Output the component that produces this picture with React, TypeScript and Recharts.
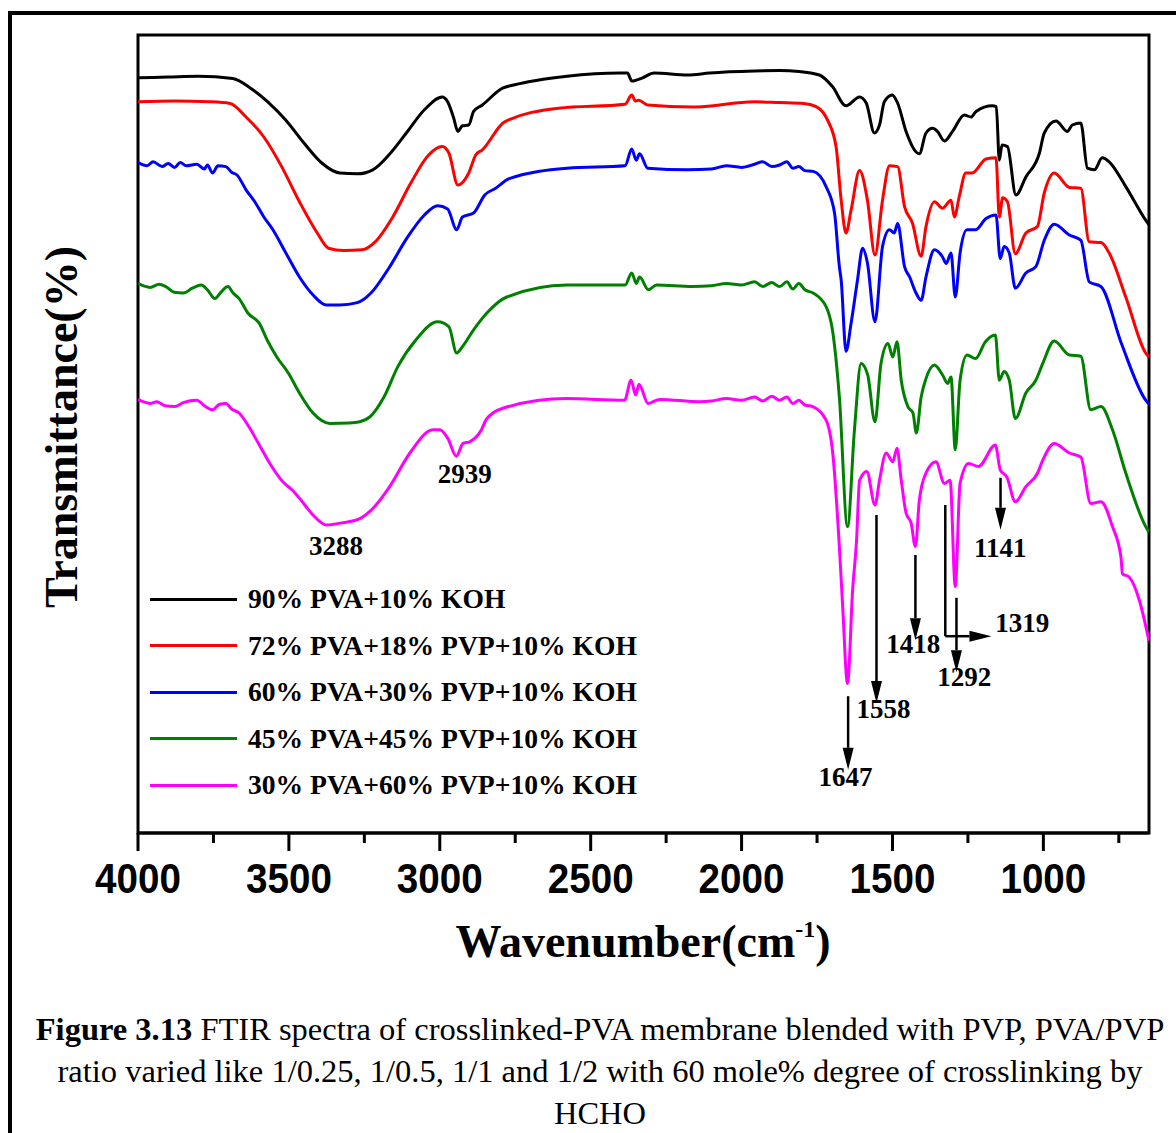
import React from 'react';
import { LineChart, Line, XAxis, YAxis, ReferenceLine, ReferenceDot, ReferenceArea } from 'recharts';

// FTIR traces, [wavenumber cm-1, transmittance a.u.]
const pva90: [number, number][] = [
  [4000, 94.4], [3900, 94.5], [3800, 94.6], [3686, 94.3], [3627, 93.1], [3570, 91.4], [3510, 89.1], [3450, 86.25],
  [3391, 83.75], [3331, 82.5], [3273, 82.4], [3222, 82.9], [3169, 84.75], [3109, 87.6], [3051, 90.4], [2992, 92],
  [2974, 91.4], [2955, 89.5], [2940, 87.7], [2925, 88.4], [2904, 88.5], [2888, 90.2], [2859, 91], [2792, 93.1],
  [2755, 93.5], [2578, 94.6], [2401, 95], [2378, 95], [2364, 94], [2328, 94.4], [2290, 95], [2179, 94.75],
  [2106, 95], [1957, 95.25], [1874, 95.3], [1810, 95.2], [1742, 94.75], [1699, 93.3], [1654, 90.9], [1609, 92],
  [1587, 91.25], [1560, 87.5], [1543, 88.5], [1527, 91.4], [1501, 92.25], [1483, 91.25], [1455, 87.7], [1411, 84.9],
  [1389, 87.5], [1367, 88.1], [1351, 87.7], [1328, 86.5], [1301, 87.7], [1262, 89.75], [1240, 89.5], [1223, 90.2],
  [1169, 90.9], [1156, 90.8], [1146, 84.1], [1137, 86], [1119, 85.8], [1091, 79.75], [1058, 82], [1013, 85],
  [997, 87.5], [958, 89], [921, 87.7], [904, 88.5], [876, 88.75], [854, 83.1], [831, 82.9], [805, 84.4],
  [782, 83.9], [727, 80.8], [661, 76.6], [650, 76],
];

const pvp18: [number, number][] = [
  [4000, 91.4], [3880, 91.5], [3762, 91.4], [3695, 91.2], [3642, 89.5], [3583, 87], [3524, 83.3], [3465, 78.9],
  [3406, 75], [3369, 73.1], [3318, 72.8], [3258, 72.9], [3214, 73.9], [3156, 77], [3096, 81.25], [3037, 84.75],
  [2992, 85.8], [2970, 85], [2940, 81], [2904, 82.5], [2881, 84.75], [2859, 85.4], [2785, 88.9], [2607, 90.6],
  [2386, 91.1], [2364, 92.25], [2352, 91.5], [2341, 91.6], [2311, 91], [2164, 90.75], [1957, 91.4], [1874, 91.3],
  [1795, 91.2], [1753, 90.8], [1715, 89.1], [1687, 85.8], [1670, 79.1], [1654, 75], [1637, 77.9], [1609, 82.8],
  [1583, 79.1], [1558, 72.25], [1533, 79.1], [1510, 83.4], [1483, 83.3], [1460, 78.3], [1434, 76.25], [1405, 72.1],
  [1389, 75.8], [1361, 78.9], [1334, 78.1], [1306, 79.1], [1295, 77], [1279, 79.5], [1257, 82.5], [1236, 82.5],
  [1190, 84.25], [1157, 84.4], [1146, 77], [1135, 79.4], [1119, 78.9], [1093, 72.4], [1058, 75], [1020, 75.8],
  [997, 80], [964, 82.5], [914, 80.7], [876, 80.6], [848, 73.9], [809, 73.8], [782, 72.5], [727, 67],
  [661, 60], [650, 59.5],
];

const pvp30: [number, number][] = [
  [4000, 83.8], [3970, 83.4], [3950, 83.9], [3920, 83.3], [3900, 83.7], [3879, 83.2], [3860, 83.8], [3840, 83.4],
  [3805, 83.6], [3780, 83.0], [3770, 83.5], [3753, 82.5], [3735, 83.4], [3709, 83.3], [3690, 82.6], [3672, 82.25],
  [3642, 80.4], [3613, 78.9], [3583, 77], [3553, 75.4], [3510, 72.5], [3465, 69.5], [3420, 67.25], [3376, 66],
  [3332, 66], [3273, 66.3], [3228, 67.5], [3169, 70.6], [3110, 74.3], [3051, 77.25], [3007, 78.4], [2974, 78],
  [2944, 75.4], [2925, 77], [2888, 77.5], [2851, 79.75], [2815, 80.6], [2770, 81.8], [2578, 83.1], [2386, 83.4],
  [2364, 85.5], [2349, 84.1], [2338, 84.9], [2311, 83.1], [2179, 82.9], [2100, 83.0], [2050, 83.4], [2000, 83.2],
  [1957, 83.6], [1930, 83.9], [1900, 83.3], [1874, 83.5], [1850, 83.9], [1830, 83.1], [1810, 83.3], [1790, 82.8],
  [1763, 82.7], [1720, 80.8], [1692, 77.5], [1676, 70.8], [1670, 69.1], [1654, 60.2], [1637, 63.75], [1616, 69.1],
  [1599, 73.1], [1583, 71.25], [1558, 63.9], [1533, 73.3], [1510, 75.4], [1494, 75], [1483, 76.2], [1460, 70.8],
  [1443, 69.5], [1422, 67.5], [1405, 66.6], [1389, 69.5], [1361, 72.9], [1334, 72], [1322, 71.2], [1306, 72.5],
  [1292, 67], [1276, 72.5], [1253, 75.4], [1225, 75.4], [1190, 76.8], [1157, 77.25], [1143, 71.8], [1130, 73.3],
  [1113, 72.5], [1093, 68.1], [1058, 70], [1025, 70.8], [997, 74.1], [964, 76.1], [914, 74.75], [876, 74.1],
  [848, 68.9], [809, 68.3], [742, 61.25], [661, 54.1], [650, 53.6],
];

const pvp45: [number, number][] = [
  [4000, 68.7], [3960, 68.2], [3930, 68.6], [3908, 68.3], [3880, 67.6], [3849, 67.5], [3820, 68.1], [3790, 68.5],
  [3770, 67.9], [3745, 66.8], [3725, 67.6], [3702, 68.3], [3685, 67.5], [3665, 66.8], [3636, 65], [3598, 63.7],
  [3569, 61.4], [3540, 59.5], [3502, 57.5], [3465, 55], [3420, 52.5], [3364, 51.2], [3300, 51.25], [3265, 51.4],
  [3232, 52], [3185, 54.5], [3139, 58.3], [3080, 61.6], [3007, 63.9], [2970, 63.3], [2944, 60], [2925, 60.8],
  [2888, 62.9], [2844, 65], [2778, 67], [2578, 68.5], [2386, 68.5], [2364, 70], [2349, 68.7], [2338, 69.5],
  [2309, 67.9], [2282, 68.5], [2164, 68.3], [2100, 68.4], [2050, 68.7], [2000, 68.5], [1957, 68.9], [1930, 68.3],
  [1900, 68.8], [1874, 68.3], [1850, 68.9], [1830, 68.0], [1810, 68.7], [1790, 67.9], [1763, 67.5], [1720, 65.8],
  [1699, 62.9], [1676, 54.5], [1649, 38.3], [1626, 50.4], [1604, 58.7], [1582, 57.25], [1558, 51.4], [1538, 58.7],
  [1515, 61.2], [1499, 59.5], [1485, 61.4], [1471, 56.6], [1449, 53.3], [1432, 52.5], [1421, 50], [1405, 54.5],
  [1389, 56.8], [1361, 58.5], [1334, 57.25], [1317, 56.2], [1306, 57], [1292, 47.9], [1276, 56.6], [1253, 59.75],
  [1225, 59.3], [1192, 61.4], [1159, 62.25], [1146, 56.6], [1130, 57.7], [1113, 56.6], [1093, 51.8], [1058, 55],
  [1025, 56.6], [1002, 58.7], [964, 61.5], [914, 59.75], [876, 59.6], [843, 52.9], [809, 53.3], [771, 50.4],
  [727, 45], [661, 38.3], [650, 37.6],
];

const pvp60: [number, number][] = [
  [4000, 54.2], [3960, 53.7], [3938, 53.9], [3910, 53.4], [3879, 53.3], [3850, 53.8], [3805, 54.1], [3780, 53.4],
  [3753, 52.9], [3730, 53.6], [3709, 53.7], [3690, 53.0], [3665, 52.5], [3636, 51], [3598, 48.5], [3560, 46],
  [3520, 43.9], [3490, 42.9], [3464, 41.8], [3420, 39.75], [3375, 38.5], [3320, 38.8], [3265, 39.3], [3221, 40.6],
  [3166, 43.3], [3099, 47.5], [3022, 50.4], [3000, 50.4], [2973, 49.3], [2945, 47.1], [2923, 48.7], [2901, 48.9],
  [2862, 50.4], [2846, 51.7], [2791, 53.1], [2581, 54.3], [2388, 54.1], [2366, 56.6], [2351, 54.75], [2340, 56.1],
  [2310, 53.7], [2271, 54.2], [2139, 53.9], [2100, 54.0], [2050, 54.3], [2000, 54.1], [1957, 54.5], [1930, 54.0],
  [1900, 54.6], [1874, 54.1], [1850, 54.5], [1830, 53.7], [1810, 54.1], [1790, 53.5], [1764, 53.3], [1720, 51.6],
  [1698, 47.5], [1676, 35.8], [1665, 28.3], [1649, 18.7], [1632, 30.4], [1619, 36.6], [1609, 44.1], [1585, 45.2],
  [1558, 41], [1543, 44.1], [1521, 47.5], [1499, 46.4], [1485, 48.1], [1471, 44.1], [1455, 40], [1438, 38.7],
  [1424, 35.8], [1411, 41.6], [1389, 45], [1356, 46.4], [1328, 43.7], [1309, 44.1], [1292, 30.8], [1276, 43.7],
  [1248, 46.2], [1215, 45.8], [1159, 48.5], [1143, 45.4], [1121, 44.5], [1093, 41.4], [1058, 43.3], [1019, 45],
  [1002, 46.6], [964, 48.7], [914, 47.5], [876, 47], [843, 41.2], [809, 41.4], [771, 38.3], [743, 34.5],
  [738, 32.4], [716, 32], [682, 29.1], [650, 24],
];

const series = [
  { name: '90% PVA+10% KOH', color: '#000000', points: pva90 },
  { name: '72% PVA+18% PVP+10% KOH', color: '#ff0000', points: pvp18 },
  { name: '60% PVA+30% PVP+10% KOH', color: '#0000ff', points: pvp30 },
  { name: '45% PVA+45% PVP+10% KOH', color: '#008000', points: pvp45 },
  { name: '30% PVA+60% PVP+10% KOH', color: '#ff00ff', points: pvp60 },
];

const xTicks = [4000, 3750, 3500, 3250, 3000, 2750, 2500, 2250, 2000, 1750, 1500, 1250, 1000, 750];

// peak labels and arrows
const peakLabels = [
  { wn: 3344, t: 35.9, text: '3288' },
  { wn: 2917, t: 44.9, text: '2939' },
  { wn: 1656, t: 7.0, text: '1647' },
  { wn: 1530, t: 15.5, text: '1558' },
  { wn: 1431, t: 23.6, text: '1418' },
  { wn: 1262, t: 19.5, text: '1292' },
  { wn: 1070, t: 26.25, text: '1319' },
  { wn: 1143, t: 35.6, text: '1141' },
];

const arrows = [
  { x1: 1647, y1: 17.1, x2: 1647, y2: 7.9, head: true },
  { x1: 1553, y1: 39.75, x2: 1553, y2: 16.25, head: true },
  { x1: 1424, y1: 34.75, x2: 1424, y2: 24.1, head: true },
  { x1: 1288, y1: 29.4, x2: 1288, y2: 20.1, head: true },
  { x1: 1142, y1: 44.4, x2: 1142, y2: 37.9, head: true },
  { x1: 1325, y1: 41, x2: 1325, y2: 24.6, head: false },
  { x1: 1325, y1: 24.6, x2: 1172, y2: 24.6, head: true },
];

const serif = "'Liberation Serif', 'Times New Roman', serif";
const sans = "'Liberation Sans', Arial, sans-serif";

const WaveTick = (props: any) => {
  const { x, y, payload } = props;
  const major = payload.value % 500 === 0;
  return (
    <g>
      <line x1={x} y1={y} x2={x} y2={y + (major ? 18 : 10)} stroke="#000" strokeWidth={3} />
      {major && (
        <text
          transform={`translate(${x},${y + 60}) scale(0.92,1)`}
          textAnchor="middle"
          fontFamily={sans}
          fontWeight="bold"
          fontSize={42}
          fill="#000"
        >
          {payload.value}
        </text>
      )}
    </g>
  );
};

const arrowShape = (head: boolean) => (p: any) => {
  const { x1, y1, x2, y2 } = p;
  const dx = x2 - x1;
  const dy = y2 - y1;
  const len = Math.hypot(dx, dy) || 1;
  const ux = dx / len;
  const uy = dy / len;
  const hl = 22;
  const hw = 5.5;
  const bx = x2 - ux * hl;
  const by = y2 - uy * hl;
  return (
    <g>
      <line x1={x1} y1={y1} x2={head ? bx : x2} y2={head ? by : y2} stroke="#000" strokeWidth={2.5} />
      {head && (
        <polygon
          points={`${x2},${y2} ${bx - uy * hw},${by + ux * hw} ${bx + uy * hw},${by - ux * hw}`}
          fill="#000"
        />
      )}
    </g>
  );
};

const labelShape = (text: string) => (p: any) => (
  <text
    x={p.cx}
    y={p.cy}
    textAnchor="middle"
    dominantBaseline="central"
    fontFamily={serif}
    fontWeight="bold"
    fontSize={27}
    fill="#000"
  >
    {text}
  </text>
);

const FtirChart: React.FC = () => {
  return (
    <div style={{ position: 'absolute', left: 0, top: 0, width: 1176, height: 1133, background: '#fff', overflow: 'hidden', fontFamily: serif }}>
      <div style={{ position: 'absolute', left: 8, top: 11, right: 0, bottom: 0, borderLeft: '4px solid #000', borderTop: '4px solid #000' }} />

      <div style={{ position: 'absolute', left: 0, top: 0 }}>
        <LineChart width={1176} height={980} margin={{ top: 35, right: 27, left: 138, bottom: 0 }}>
          <XAxis
            dataKey="wn"
            type="number"
            domain={[650, 4000]}
            reversed
            allowDataOverflow
            ticks={xTicks}
            interval={0}
            height={147}
            tickSize={0}
            tickMargin={0}
            tickLine={false}
            tick={WaveTick}
            axisLine={{ stroke: '#000', strokeWidth: 3 }}
          />
          <YAxis type="number" domain={[0, 99.75]} width={0} hide />
          {series.map(s => (
            <Line
              key={s.name}
              name={s.name}
              data={s.points.map(([wn, t]) => ({ wn, t }))}
              dataKey="t"
              type="monotone"
              stroke={s.color}
              strokeWidth={3}
              dot={false}
              activeDot={false}
              isAnimationActive={false}
            />
          ))}
          <ReferenceArea x1={4000} x2={650} y1={0} y2={99.75} fill="none" stroke="#000" strokeWidth={3} />
          {arrows.map((a, i) => (
            <ReferenceLine
              key={'a' + i}
              segment={[{ x: a.x1, y: a.y1 }, { x: a.x2, y: a.y2 }]}
              shape={arrowShape(a.head)}
            />
          ))}
          {peakLabels.map(l => (
            <ReferenceDot key={l.text} x={l.wn} y={l.t} r={1} shape={labelShape(l.text)} />
          ))}
        </LineChart>
      </div>

      <div
        style={{
          position: 'absolute', left: 62, top: 427, transform: 'translate(-50%, -50%) rotate(-90deg)',
          whiteSpace: 'nowrap', fontSize: 46, fontWeight: 'bold', lineHeight: '46px',
        }}
      >
        Transmittance(%)
      </div>

      <div
        style={{
          position: 'absolute', left: 643, top: 919, transform: 'translateX(-50%)',
          whiteSpace: 'nowrap', fontSize: 46, fontWeight: 'bold', lineHeight: '46px',
        }}
      >
        Wavenumber(cm<span style={{ fontSize: 24, position: 'relative', top: -20 }}>-1</span>)
      </div>

      <div style={{ position: 'absolute', left: 150, top: 576 }}>
        {series.map(s => (
          <div key={s.name} style={{ display: 'flex', alignItems: 'center', height: 46.5 }}>
            <div style={{ width: 87, height: 3, background: s.color, marginRight: 11 }} />
            <span style={{ fontSize: 27.6, fontWeight: 'bold', lineHeight: '28px', whiteSpace: 'nowrap' }}>{s.name}</span>
          </div>
        ))}
      </div>

      <div
        style={{
          position: 'absolute', left: 24, width: 1152, top: 1008, textAlign: 'center',
          fontSize: 32.5, lineHeight: '42px', whiteSpace: 'nowrap',
        }}
      >
        <b>Figure 3.13</b> FTIR spectra of crosslinked-PVA membrane blended with PVP, PVA/PVP
        <br />
        ratio varied like 1/0.25, 1/0.5, 1/1 and 1/2 with 60 mole% degree of crosslinking by
        <br />
        HCHO
      </div>
    </div>
  );
};

export default function App() {
  return <FtirChart />;
}
